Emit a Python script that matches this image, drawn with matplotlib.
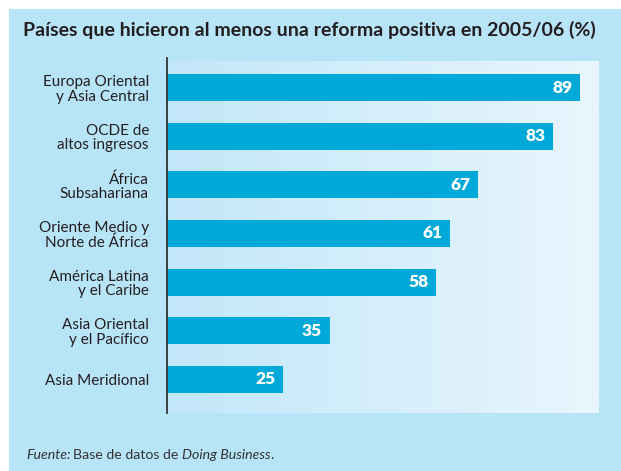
import numpy as np
import matplotlib
matplotlib.use("Agg")
import matplotlib.pyplot as plt
from matplotlib.patches import Rectangle
from matplotlib.colors import LinearSegmentedColormap

plt.rcParams['font.family'] = ['Lato', 'DejaVu Sans']

regiones = ["Europa Oriental\ny Asia Central", "OCDE de\naltos ingresos", "África\nSubsahariana",
            "Oriente Medio y\nNorte de África", "América Latina\ny el Caribe",
            "Asia Oriental\ny el Pacífico", "Asia Meridional"]
valores = [89, 83, 67, 61, 58, 35, 25]

fondo = "#B8E4F8"
barra = "#00A9D8"
texto = "#231F20"

fig = plt.figure(figsize=(6.21, 4.71), dpi=100, facecolor="white")
# fondo azul claro del recuadro
fig.patches.append(Rectangle((9 / 621, 0), 1, 1 - 9 / 471, transform=fig.transFigure,
                             facecolor=fondo, edgecolor="none", zorder=-5))

ax = fig.add_axes([167 / 621, 1 - 413 / 471, 432 / 621, 352 / 471])
ax.set_xlim(0, 93)
ax.set_ylim(6.69, -0.545)
ax.patch.set_alpha(0)

# degradado del panel
grad = np.linspace(0, 1, 256).reshape(1, -1)
cmap = LinearSegmentedColormap.from_list("g", ["#C2E7F9", "#E9F6FD"])
ax.imshow(grad, cmap=cmap, aspect="auto", extent=(0, 93, 6.69, -0.545), zorder=0)

y = np.arange(len(regiones))
ax.barh(y, valores, height=0.555, color=barra, zorder=2)
for yi, v in zip(y, valores):
    ax.text(v - 1.6, yi, str(v), ha="right", va="center", color="white",
            fontsize=12.5, fontweight="heavy", zorder=3)

ax.set_yticks(y)
ax.set_yticklabels(regiones, fontsize=11, color=texto, ha="right", linespacing=1.05)
ax.tick_params(axis="y", length=0, pad=13)
ax.set_xticks([])
for s in ["top", "right", "bottom"]:
    ax.spines[s].set_visible(False)
ax.spines["left"].set_color("#333333")
ax.spines["left"].set_linewidth(1.3)
ax.spines["left"].set_bounds(6.69, -0.6)

fig.text(309 / 621, 1 - 30 / 471, "Países que hicieron al menos una reforma positiva en 2005/06 (%)",
         ha="center", va="center", fontsize=14, fontweight="bold", color=texto)

# pie de fuente
yf = 1 - 455 / 471
t1 = fig.text(26 / 621, yf, "Fuente:", style="italic", fontsize=10.2, color="#333333", va="center")
fig.canvas.draw()
r = fig.canvas.get_renderer()
x = t1.get_window_extent(r).x1 / fig.bbox.width
t2 = fig.text(x + 0.004, yf, "Base de datos de ", fontsize=10.2, color="#333333", va="center")
x = t2.get_window_extent(r).x1 / fig.bbox.width
t3 = fig.text(x, yf, "Doing Business", style="italic", fontsize=10.2, color="#333333", va="center")
x = t3.get_window_extent(r).x1 / fig.bbox.width
fig.text(x, yf, ".", fontsize=10.2, color="#333333", va="center")

fig.savefig("out.png", dpi=100, facecolor="white")
